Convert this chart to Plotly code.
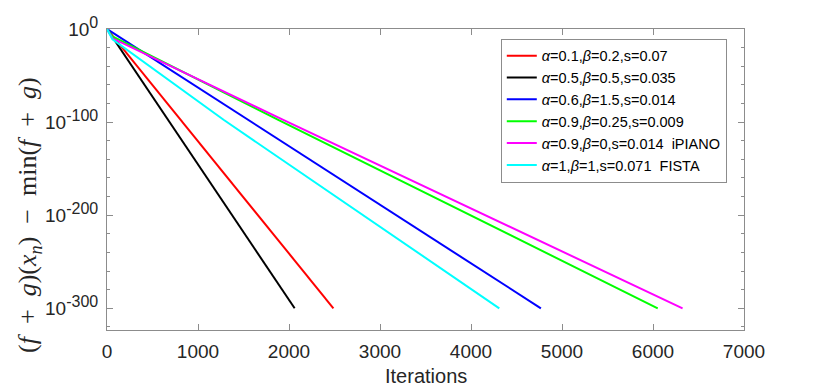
import plotly.graph_objects as go

# ─── Data ────────────────────────────────────────────────────────────────────
NAMES = [
    "<i>α</i>=0.1,<i>β</i>=0.2,s=0.07",
    "<i>α</i>=0.5,<i>β</i>=0.5,s=0.035",
    "<i>α</i>=0.6,<i>β</i>=1.5,s=0.014",
    "<i>α</i>=0.9,<i>β</i>=0.25,s=0.009",
    "<i>α</i>=0.9,<i>β</i>=0,s=0.014\u00a0\u00a0iPIANO",
    "<i>α</i>=1,<i>β</i>=1,s=0.071\u00a0\u00a0FISTA",
]
LINE_COLORS = ["#FF0000", "#000000", "#0000FF", "#00FF00", "#FF00FF", "#00FFFF"]

red_x = [0, 2488]
red_y = [1e0, 1e-300]
black_x = [0, 2062]
black_y = [1e0, 1e-300]
blue_x = [0, 4768]
blue_y = [1e0, 1e-300]
green_x = [0, 60, 1882, 6052]
green_y = [1e0, 1e-8, 3e-98, 1e-300]
magenta_x = [0, 60, 1937, 6325]
magenta_y = [1e0, 1e-10, 3e-98, 1e-300]
cyan_x = [0, 60, 1281, 4311]
cyan_y = [1e0, 1e-11, 3e-98, 1e-300]

SERIES = [
    (red_x, red_y),
    (black_x, black_y),
    (blue_x, blue_y),
    (green_x, green_y),
    (magenta_x, magenta_y),
    (cyan_x, cyan_y),
]

X_TICKS = [0, 1000, 2000, 3000, 4000, 5000, 6000, 7000]
Y_TICKS = [1e-300, 1e-200, 1e-100, 1e0]
Y_EXPONENTS = ["-300", "-200", "-100", "0"]
Y_MINOR = [10.0 ** (-k) for k in range(20, 321, 20) if k % 100 != 0]

# ─── Style ───────────────────────────────────────────────────────────────────
AXIS_GRAY = "#8c8c8c"
TEXT = "#262626"
SANS = "Liberation Sans, Arial, sans-serif"
SERIF = "Liberation Serif, Times New Roman, serif"
SP = "\u2002"

y_ticktext = [f"10<sup><span style='font-size:16px'>{e}</span></sup>" for e in Y_EXPONENTS]
ytitle = (f"(<i>f</i>{SP}+{SP}<i>g</i>)(<i>x<sub>n</sub></i>){SP}−{SP}"
          f"min(<i>f</i>{SP}+{SP}<i>g</i>)")

fig = go.Figure()
for name, color, (xs, ys) in zip(NAMES, LINE_COLORS, SERIES):
    fig.add_trace(go.Scatter(
        x=xs, y=ys, mode="lines", name=name,
        line=dict(color=color, width=2),
    ))

# the page body adds an 8px offset, margins compensate for it
fig.update_layout(
    width=822, height=391,
    paper_bgcolor="white",
    plot_bgcolor="white",
    margin=dict(l=99, r=86, t=21, b=69, autoexpand=False),
    font=dict(family=SANS, color=TEXT, size=19),
    showlegend=True,
    legend=dict(
        x=0.6182, y=0.9677, xanchor="left", yanchor="top",
        bgcolor="white", bordercolor=AXIS_GRAY, borderwidth=1,
        font=dict(family=SANS, size=14.5, color="#000000"),
        tracegroupgap=0,
    ),
    xaxis=dict(
        range=[0, 7000],
        tickvals=X_TICKS,
        ticks="inside", ticklen=6, tickcolor=AXIS_GRAY,
        showline=True, linecolor=AXIS_GRAY, linewidth=1, mirror="ticks",
        showgrid=False, zeroline=False, automargin=False,
        tickfont=dict(size=19, color=TEXT),
        ticklabelstandoff=4,
    ),
    yaxis=dict(
        type="log",
        range=[-323.3, 0],
        tickvals=Y_TICKS, ticktext=y_ticktext,
        ticks="inside", ticklen=6, tickcolor=AXIS_GRAY,
        minor=dict(tickvals=Y_MINOR, ticks="inside", ticklen=3, tickcolor=AXIS_GRAY),
        showline=True, linecolor=AXIS_GRAY, linewidth=1, mirror="ticks",
        showgrid=False, zeroline=False, automargin=False,
        tickfont=dict(size=19, color=TEXT),
        ticklabelstandoff=4,
    ),
    annotations=[
        dict(text="Iterations", x=0.5, y=-0.153, xref="paper", yref="paper",
             xanchor="center", yanchor="middle", showarrow=False,
             font=dict(family=SANS, size=20, color=TEXT)),
        dict(text=ytitle, x=-0.1224, y=0.3825, xref="paper", yref="paper",
             xanchor="center", yanchor="middle", showarrow=False, textangle=-90,
             font=dict(family=SERIF, size=26, color=TEXT)),
    ],
)

fig.write_html("out.html")
